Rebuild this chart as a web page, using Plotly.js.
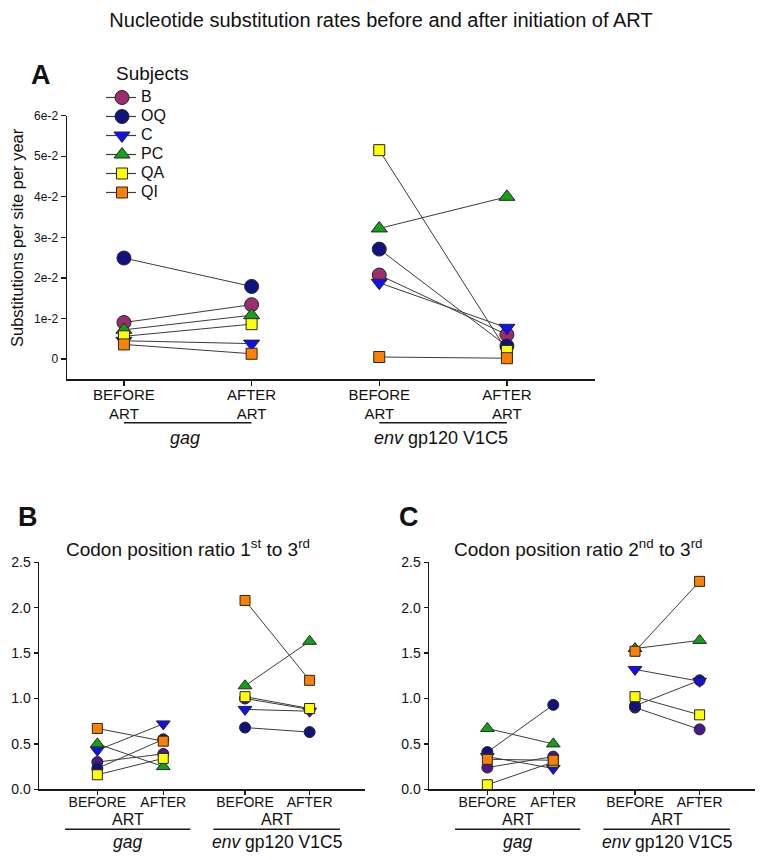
<!DOCTYPE html>
<html>
<head>
<meta charset="utf-8">
<script src="https://cdn.plot.ly/plotly-3.0.1.min.js"></script>
<style>html,body{margin:0;padding:0;background:#fff;}#chart{width:764px;height:860px;}</style>
</head>
<body>
<div id="chart"></div>
<script>
// ---------- DATA ----------
const subjects = ['B', 'OQ', 'C', 'PC', 'QA', 'QI'];
const stageLabels = ['BEFORE', 'AFTER'];
const treatment = 'ART';
const genes = ['gag', 'env gp120 V1C5'];
const yTicksA = [0, 0.01, 0.02, 0.03, 0.04, 0.05, 0.06];
const yTickTextA = ['0', '1e-2', '2e-2', '3e-2', '4e-2', '5e-2', '6e-2'];
const yTicksBC = [0, 0.5, 1.0, 1.5, 2.0, 2.5];

// Panel A: substitutions per site per year
const gagBeforeA = [0.0090, 0.0249, 0.0045, 0.0072, 0.0056, 0.0036];
const gagAfterA  = [0.0134, 0.0179, 0.0038, 0.0108, 0.0086, 0.0013];
const envBeforeA = [0.0207, 0.0271, 0.0188, 0.0322, 0.0515, 0.0005];
const envAfterA  = [0.0060, 0.0032, 0.0077, 0.0400, 0.0020, 0.0002];

// Panel B: codon position ratio 1st to 3rd
const gagBeforeB = [0.30, 0.23, 0.43, 0.50, 0.16, 0.67];
const gagAfterB  = [0.39, 0.55, 0.72, 0.25, 0.34, 0.53];
const envBeforeB = [1.00, 0.68, 0.88, 1.14, 1.02, 2.08];
const envAfterB  = [0.88, 0.63, 0.86, 1.63, 0.89, 1.20];

// Panel C: codon position ratio 2nd to 3rd
const gagBeforeC = [0.24, 0.41, 0.36, 0.67, 0.05, 0.33];
const gagAfterC  = [0.36, 0.93, 0.23, 0.50, 0.30, 0.32];
const envBeforeC = [0.90, 0.92, 1.32, 1.55, 1.02, 1.52];
const envAfterC  = [0.66, 1.20, 1.19, 1.64, 0.82, 2.29];

// ---------- STYLE ----------
const FONT = 'Liberation Sans, Arial, Helvetica, sans-serif';
const W = 764, H = 860;
const px = v => v / W;           // x pixel -> paper
const py = v => 1 - v / H;       // y pixel (from top) -> paper
const colorsA  = ['#9c2c6c', '#12127e', '#1010f5', '#16a016', '#ffff00', '#ff8000'];
const colorsBC = ['#4a1888', '#12127e', '#1010f5', '#16a016', '#ffff00', '#ff8000'];
const symbols  = ['circle', 'circle', 'triangle-down', 'triangle-up', 'square', 'square'];
const sizesA   = [14, 14, 14, 14, 11, 11];
const sizesBC  = [11, 11, 12, 12, 10, 10];
const posA  = [0, 1, 2, 3];
const posBC = [0, 1, 2.24, 3.22];
const lineColor = '#3c3c3c';

const traces = [];
function addPanel(xa, ya, pos, gb, ga, eb, ea, colors, sizes) {
  subjects.forEach((s, i) => {
    traces.push({
      type: 'scatter', mode: 'lines', xaxis: xa, yaxis: ya,
      x: [pos[0], pos[1], null, pos[2], pos[3]],
      y: [gb[i], ga[i], null, eb[i], ea[i]],
      line: {color: lineColor, width: 1}, showlegend: false, hoverinfo: 'skip'
    });
  });
  subjects.forEach((s, i) => {
    traces.push({
      type: 'scatter', mode: 'markers', xaxis: xa, yaxis: ya, name: s,
      x: [pos[0], pos[1], pos[2], pos[3]],
      y: [gb[i], ga[i], eb[i], ea[i]],
      marker: {symbol: symbols[i], size: sizes[i], color: colors[i], line: {color: '#262626', width: 1}},
      cliponaxis: false, showlegend: false
    });
  });
}
addPanel('x', 'y', posA, gagBeforeA, gagAfterA, envBeforeA, envAfterA, colorsA, sizesA);
addPanel('x2', 'y2', posBC, gagBeforeB, gagAfterB, envBeforeB, envAfterB, colorsBC, sizesBC);
addPanel('x3', 'y3', posBC, gagBeforeC, gagAfterC, envBeforeC, envAfterC, colorsBC, sizesBC);

// Legend drawn on its own hidden axes (1 unit = 1 px horizontally)
subjects.forEach((s, i) => {
  traces.push({type: 'scatter', mode: 'lines', xaxis: 'x4', yaxis: 'y4', x: [6, 36], y: [i, i],
    line: {color: lineColor, width: 1.2}, showlegend: false, hoverinfo: 'skip'});
});
subjects.forEach((s, i) => {
  traces.push({type: 'scatter', mode: 'markers', xaxis: 'x4', yaxis: 'y4', x: [22], y: [i],
    marker: {symbol: symbols[i], size: sizesA[i], color: colorsA[i], line: {color: '#262626', width: 1}},
    cliponaxis: false, showlegend: false, hoverinfo: 'skip'});
});
traces.push({type: 'scatter', mode: 'text', xaxis: 'x4', yaxis: 'y4',
  x: subjects.map(() => 41), y: subjects.map((s, i) => i), text: subjects,
  textposition: 'middle right', textfont: {family: FONT, size: 16, color: '#111'},
  cliponaxis: false, showlegend: false, hoverinfo: 'skip'});

const axBase = {showline: true, linecolor: '#1a1a1a', linewidth: 1.5, ticks: 'outside', ticklen: 5,
  tickcolor: '#1a1a1a', tickwidth: 1.2, showgrid: false, zeroline: false, fixedrange: true};

const tickTextA = [stageLabels[0] + '<br>' + treatment, stageLabels[1] + '<br>' + treatment,
                   stageLabels[0] + '<br>' + treatment, stageLabels[1] + '<br>' + treatment];
const tickTextBC = [stageLabels[0], stageLabels[1], stageLabels[0], stageLabels[1]];

const layout = {
  width: W, height: H, margin: {l: 0, r: 0, t: 0, b: 0},
  paper_bgcolor: '#fff', plot_bgcolor: 'rgba(0,0,0,0)',
  font: {family: FONT, color: '#111'},
  showlegend: false,
  title: {text: 'Nucleotide substitution rates before and after initiation of ART',
    x: px(381), xanchor: 'center', y: py(20), yanchor: 'middle', xref: 'paper', yref: 'paper',
    font: {family: 'Liberation Sans Narrow, Arial Narrow, ' + FONT, size: 20, color: '#111'}},
  xaxis: Object.assign({}, axBase, {domain: [px(67), px(595)], range: [-0.446, 3.69], anchor: 'y',
    ticklabelstandoff: -4,
    tickvals: posA, ticktext: tickTextA, tickfont: {family: FONT, size: 15, color: '#111'}}),
  yaxis: Object.assign({}, axBase, {domain: [py(379.3), py(115.7)], range: [-0.005, 0.06], anchor: 'x',
    tickvals: yTicksA, ticktext: yTickTextA, tickfont: {family: FONT, size: 12, color: '#111'}}),
  xaxis2: Object.assign({}, axBase, {domain: [px(39), px(365)], range: [-0.885, 4.06], anchor: 'y2', ticklen: 4,
    ticklabelstandoff: -5,
    tickvals: posBC, ticktext: tickTextBC, tickfont: {family: FONT, size: 14, color: '#111'}}),
  yaxis2: Object.assign({}, axBase, {domain: [py(789.3), py(562.3)], range: [0, 2.5], anchor: 'x2', ticklen: 4,
    tickvals: yTicksBC, tickformat: '.1f', tickfont: {family: FONT, size: 14, color: '#111'}}),
  xaxis3: Object.assign({}, axBase, {domain: [px(429), px(755)], range: [-0.885, 4.06], anchor: 'y3', ticklen: 4,
    ticklabelstandoff: -5,
    tickvals: posBC, ticktext: tickTextBC, tickfont: {family: FONT, size: 14, color: '#111'}}),
  yaxis3: Object.assign({}, axBase, {domain: [py(789.3), py(562.3)], range: [0, 2.5], anchor: 'x3', ticklen: 4,
    tickvals: yTicksBC, tickformat: '.1f', tickfont: {family: FONT, size: 14, color: '#111'}}),
  xaxis4: {domain: [px(100), px(200)], range: [0, 100], visible: false, fixedrange: true, anchor: 'y4'},
  yaxis4: {domain: [py(202), py(88)], range: [5.5, -0.5], visible: false, fixedrange: true, anchor: 'x4'},
  shapes: [],
  annotations: []
};

const ann = layout.annotations, shp = layout.shapes;
function txt(o) {
  ann.push(Object.assign({showarrow: false, xanchor: 'center', yanchor: 'middle',
    font: {family: FONT, size: 16, color: '#111'}}, o));
}

// Panel letters
txt({text: '<b>A</b>', xref: 'paper', yref: 'paper', x: px(41), y: py(75), font: {family: FONT, size: 27, color: '#111'}});
txt({text: '<b>B</b>', xref: 'paper', yref: 'paper', x: px(28), y: py(517), font: {family: FONT, size: 27, color: '#111'}});
txt({text: '<b>C</b>', xref: 'paper', yref: 'paper', x: px(409), y: py(517), font: {family: FONT, size: 27, color: '#111'}});
// Legend title
txt({text: 'Subjects', xref: 'paper', yref: 'paper', x: px(114), xanchor: 'left', y: py(73), font: {family: FONT, size: 19, color: '#111'}});
// Y title A
txt({text: 'Substitutions per site per year', xref: 'paper', yref: 'paper', x: px(17), y: py(238), textangle: -90,
  font: {family: FONT, size: 16.5, color: '#111'}});
// Panel B/C titles
const ratioTitles = ['Codon position ratio 1<sup>st</sup> to 3<sup>rd</sup>', 'Codon position ratio 2<sup>nd</sup> to 3<sup>rd</sup>'];
txt({text: ratioTitles[0], xref: 'paper', yref: 'paper', x: px(188), y: py(548), font: {family: FONT, size: 19, color: '#111'}});
txt({text: ratioTitles[1], xref: 'paper', yref: 'paper', x: px(578), y: py(548), font: {family: FONT, size: 19, color: '#111'}});

const geneText = ['<i>' + genes[0] + '</i>', '<i>env</i> gp120 V1C5'];
// Panel A group labels and underlines
[[0, 1], [2, 3]].forEach((g, k) => {
  shp.push({type: 'line', xref: 'x', yref: 'paper', x0: posA[g[0]], x1: posA[g[1]], y0: py(422.7), y1: py(422.7),
    line: {color: '#1a1a1a', width: 1.5}});
  txt({text: geneText[k], xref: 'x', yref: 'paper', x: (posA[g[0]] + posA[g[1]]) / 2 - 0.02, y: py(437.5), font: {family: FONT, size: 18, color: '#111'}});
});
// Panels B, C
const grpBC = [[-0.49, 1.41], [1.76, 3.68]];
['x2', 'x3'].forEach(xa => {
  grpBC.forEach((g, k) => {
    const mid = (g[0] + g[1]) / 2;
    txt({text: treatment, xref: xa, yref: 'paper', x: mid, y: py(819.3), font: {family: FONT, size: 16, color: '#111'}});
    shp.push({type: 'line', xref: xa, yref: 'paper', x0: g[0], x1: g[1], y0: py(829.3), y1: py(829.3),
      line: {color: '#1a1a1a', width: 1.5}});
    txt({text: geneText[k], xref: xa, yref: 'paper', x: mid, y: py(842), font: {family: FONT, size: 17.5, color: '#111'}});
  });
});

Plotly.newPlot('chart', traces, layout, {staticPlot: true, displayModeBar: false});
</script>
</body>
</html>
